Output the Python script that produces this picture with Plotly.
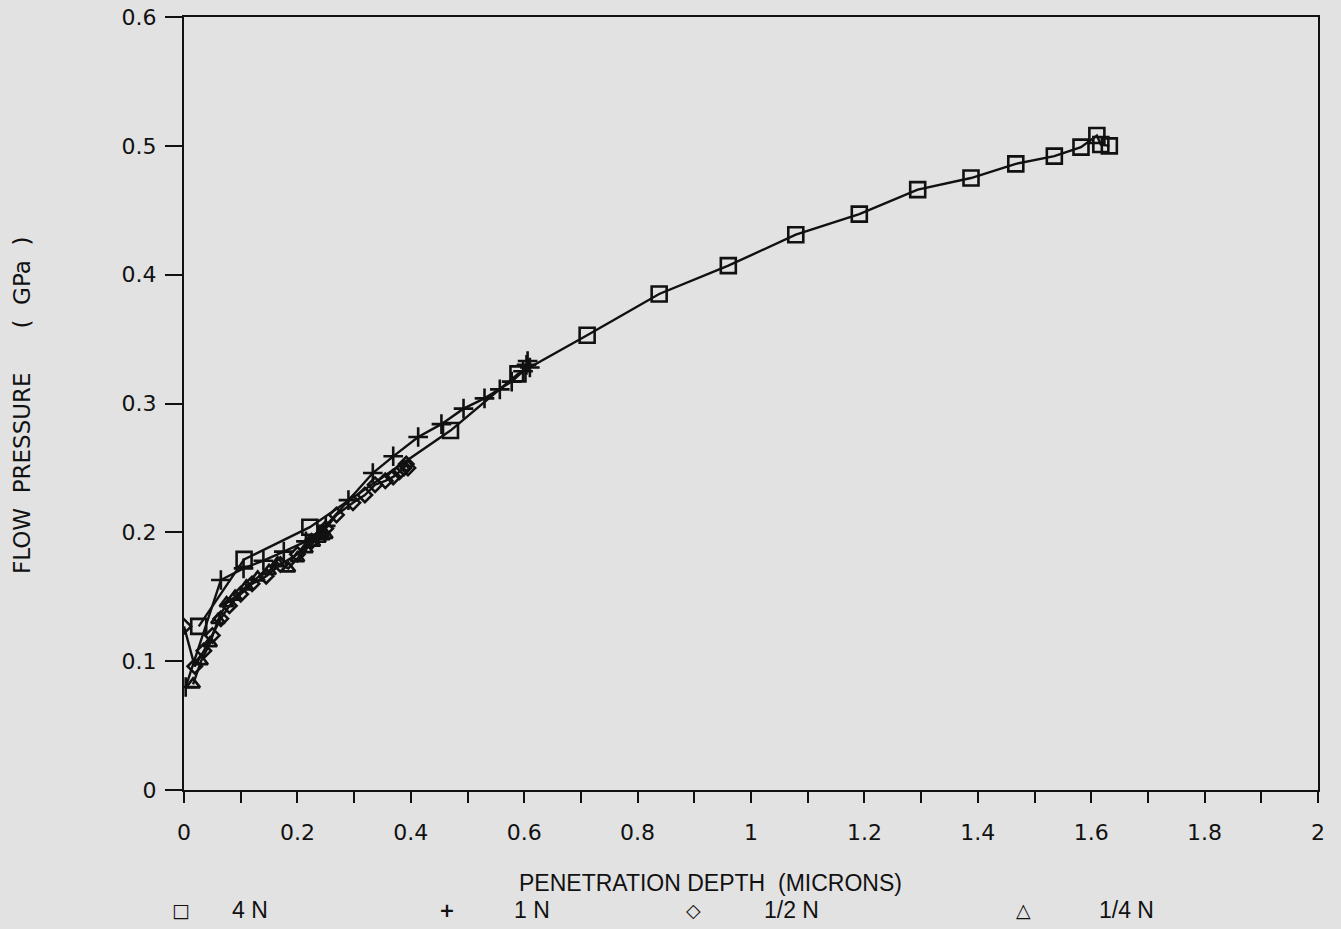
import plotly.graph_objects as go

# 4 N
x_4n = [0.026, 0.106, 0.222, 0.470, 0.589, 0.711, 0.838, 0.960, 1.079, 1.191,
        1.294, 1.388, 1.467, 1.535, 1.582, 1.610, 1.617, 1.632]
y_4n = [0.127, 0.179, 0.204, 0.279, 0.323, 0.353, 0.385, 0.407, 0.431, 0.447,
        0.466, 0.475, 0.486, 0.492, 0.499, 0.508, 0.501, 0.500]

# 1 N
x_1n = [0.003, 0.065, 0.105, 0.140, 0.176, 0.215, 0.250, 0.290, 0.333, 0.369,
        0.413, 0.454, 0.493, 0.530, 0.557, 0.578, 0.598, 0.604, 0.610, 0.606]
y_1n = [0.080, 0.163, 0.172, 0.178, 0.185, 0.193, 0.205, 0.225, 0.246, 0.259,
        0.274, 0.284, 0.296, 0.304, 0.311, 0.317, 0.325, 0.330, 0.328, 0.333]

# 1/2 N
x_half = [0.000, 0.019, 0.035, 0.050, 0.065, 0.080, 0.100, 0.120, 0.145, 0.170,
          0.200, 0.225, 0.250, 0.269, 0.298, 0.319, 0.337, 0.355, 0.369, 0.380,
          0.388, 0.392, 0.395]
y_half = [0.127, 0.096, 0.108, 0.120, 0.133, 0.143, 0.152, 0.160, 0.166, 0.175,
          0.183, 0.193, 0.203, 0.2135, 0.223, 0.229, 0.237, 0.240, 0.243, 0.247,
          0.250, 0.253, 0.250]

# 1/4 N
x_quarter = [0.016, 0.030, 0.046, 0.060, 0.075, 0.090, 0.110, 0.130, 0.150, 0.165,
             0.184, 0.200, 0.215, 0.228, 0.238, 0.245, 0.250, 0.243]
y_quarter = [0.082, 0.100, 0.114, 0.132, 0.145, 0.150, 0.158, 0.165, 0.170, 0.176,
             0.172, 0.180, 0.187, 0.192, 0.195, 0.197, 0.198, 0.200]

legend_symbols = ["□", "+", "◇", "△"]
legend_labels = ["4 N", "1 N", "1/2 N", "1/4 N"]

BG = "#e2e2e2"
INK = "#111111"

fig = go.Figure()
series = [
    (x_4n, y_4n, "square-open", 15, "4 N"),
    (x_1n, y_1n, "cross-thin-open", 14, "1 N"),
    (x_half, y_half, "diamond-open", 11, "1/2 N"),
    (x_quarter, y_quarter, "triangle-up-open", 12, "1/4 N"),
]
for xs, ys, sym, sz, name in series:
    fig.add_trace(go.Scatter(
        x=xs, y=ys, mode="lines+markers", name=name,
        line=dict(color=INK, width=2.4),
        marker=dict(symbol=sym, size=sz, color=INK, line=dict(color=INK, width=2.6)),
        showlegend=False,
    ))

tick_font = dict(family="DejaVu Sans, Verdana, sans-serif", size=22, color=INK)
narrow_font = dict(family="Liberation Sans Narrow, Liberation Sans, Arial", size=23, color=INK)

L, R, T, B = 184, 1318, 17, 790
W = R - L
H = B - T

fig.update_layout(
    template="none",
    width=1341, height=929,
    margin=dict(l=L, r=1341 - R, t=T, b=929 - B, pad=0),
    paper_bgcolor=BG, plot_bgcolor=BG,
    font=tick_font,
    xaxis=dict(
        range=[0, 2], dtick=0.2, tick0=0, showgrid=False, zeroline=False, automargin=False,
        showline=True, linecolor=INK, linewidth=2.4, mirror=True,
        ticks="outside", ticklen=11, tickwidth=2.4, tickcolor=INK, ticklabelstandoff=10,
        minor=dict(dtick=0.1, ticks="outside", ticklen=11, tickwidth=2.4, tickcolor=INK, showgrid=False),
        tickfont=tick_font,
    ),
    yaxis=dict(
        range=[0, 0.6], dtick=0.1, tick0=0, showgrid=False, zeroline=False, automargin=False,
        showline=True, linecolor=INK, linewidth=2.4, mirror=True,
        ticks="outside", ticklen=17, tickwidth=2.4, tickcolor=INK, ticklabelstandoff=4,
        tickfont=tick_font,
    ),
)

def px(x):
    return (x - L) / W

def py(y):
    return (B - y) / H

# axis titles
fig.add_annotation(text="PENETRATION DEPTH  (MICRONS)", xref="paper", yref="paper",
                   x=px(710), y=py(883), xanchor="center", yanchor="middle",
                   showarrow=False, font=narrow_font)
fig.add_annotation(text="FLOW  PRESSURE      (  GPa  )", xref="paper", yref="paper",
                   x=px(22), y=py(406), xanchor="center", yanchor="middle",
                   textangle=-90, showarrow=False,
                   font=dict(family="DejaVu Sans, Verdana", size=23, color=INK))

# legend row
sym_x = [181, 447, 693, 1023]
lab_x = [250, 532, 791, 1126]
for sx, lx, s, l in zip(sym_x, lab_x, legend_symbols, legend_labels):
    fig.add_annotation(text="<b>" + s + "</b>", xref="paper", yref="paper",
                       x=px(sx), y=py(910), xanchor="center", yanchor="middle",
                       showarrow=False, font=dict(family="DejaVu Sans", size=19, color=INK))
    fig.add_annotation(text=l, xref="paper", yref="paper",
                       x=px(lx), y=py(910), xanchor="center", yanchor="middle",
                       showarrow=False, font=narrow_font)

fig.write_html("out.html", config={"displayModeBar": False},
               post_script="document.body.style.margin='0';")
